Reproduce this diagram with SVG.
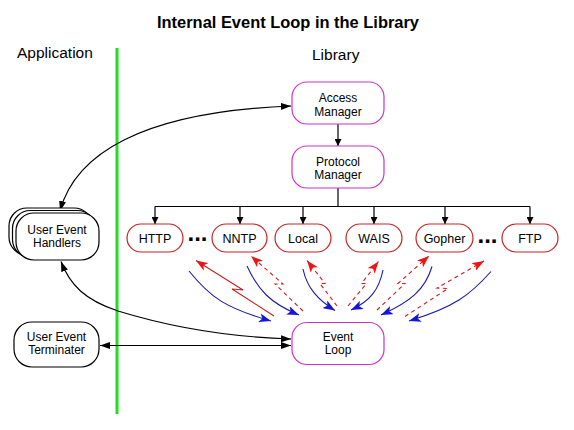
<svg xmlns="http://www.w3.org/2000/svg" width="574" height="430" viewBox="0 0 574 430">
<style>
text{font-family:"Liberation Sans",Arial,sans-serif;fill:#000}
.t{font-size:12.5px;text-anchor:middle}
.t2{font-size:12px;text-anchor:middle}
.mg{fill:#fff;stroke:#cc33cc;stroke-width:1.2}
.rd{fill:#fff;stroke:#c42424;stroke-width:1.2}
.bk{fill:#fff;stroke:#000;stroke-width:1.2}
.cn{fill:none;stroke:#000;stroke-width:1.2}
.bl{fill:none;stroke:#1a1aaa;stroke-width:1.1;marker-end:url(#mb)}
.rl{fill:none;stroke:#c81e1e;stroke-width:1.1;marker-end:url(#mr)}
.dash{stroke-dasharray:4 3.5}
.dots{font-size:24px;font-weight:bold;text-anchor:middle}
</style>
<defs>
<marker id="ml" markerUnits="userSpaceOnUse" markerWidth="10" markerHeight="8" refX="10" refY="4" orient="auto-start-reverse"><path d="M0,0.5 L10,4 L0,7.5 z" fill="#000"/></marker>
<marker id="ms" markerUnits="userSpaceOnUse" markerWidth="7" markerHeight="7" refX="7" refY="3.5" orient="auto"><path d="M0,0 L7,3.5 L0,7 z" fill="#000"/></marker>
<marker id="mb" markerUnits="userSpaceOnUse" markerWidth="12" markerHeight="9" refX="12" refY="4.5" orient="auto"><path d="M0,0 L12,4.5 L0,9 L3,4.5 z" fill="#1414dc"/></marker>
<marker id="mr" markerUnits="userSpaceOnUse" markerWidth="12" markerHeight="9" refX="12" refY="4.5" orient="auto"><path d="M0,0 L12,4.5 L0,9 L3,4.5 z" fill="#ee1414"/></marker>
</defs>

<text x="288" y="27.5" font-size="17" font-weight="bold" text-anchor="middle" textLength="262" lengthAdjust="spacingAndGlyphs">Internal Event Loop in the Library</text>
<text x="17" y="58" font-size="15.5">Application</text>
<text x="312" y="59.5" font-size="15.5">Library</text>

<rect x="115.5" y="48" width="3" height="366" fill="#22dd22"/>

<g id="connectors">
<path class="cn" d="M338,124 V146" marker-end="url(#ms)"/>
<path class="cn" d="M338,188 V206.5 M155,206.5 H530"/>
<path class="cn" d="M155,206.5 V224" marker-end="url(#ms)"/>
<path class="cn" d="M240,206.5 V224" marker-end="url(#ms)"/>
<path class="cn" d="M303,206.5 V224" marker-end="url(#ms)"/>
<path class="cn" d="M374,206.5 V224" marker-end="url(#ms)"/>
<path class="cn" d="M445,206.5 V224" marker-end="url(#ms)"/>
<path class="cn" d="M530,206.5 V224" marker-end="url(#ms)"/>
<path class="cn" d="M60,211 C75,155 140,112 291,106" marker-start="url(#ml)" marker-end="url(#ml)"/>
<path class="cn" d="M61,261.5 C70,285 85,300 118,311 C170,327 230,337 291,339" marker-start="url(#ml)" marker-end="url(#ml)"/>
<path class="cn" d="M100,345.5 H291" marker-start="url(#ml)" marker-end="url(#ml)"/>

<path class="bl" d="M189,271 C210,297 225,308 271,321"/>
<path class="bl" d="M247,266 C258,290 270,303 299,315"/>
<path class="bl" d="M303,269 C307,288 318,300 335,310.5"/>
<path class="bl" d="M383,270 C379,290 370,301 351,310"/>
<path class="bl" d="M432,266.5 C425,290 410,302 381,315"/>
<path class="bl" d="M491,271.5 C470,295 455,307 409,321"/>

<path class="rl" d="M274,316 L232,289 L243,290 L196,260.5"/>
<path class="rl dash" d="M303,311 L275,284 L283,284 L251,256"/>
<path class="rl dash" d="M337,306 L320,283.5 L325,283.5 L307,260.5"/>
<path class="rl dash" d="M348,306 L366.5,283.5 L361.5,283.5 L378.5,261.5"/>
<path class="rl dash" d="M377,310 L405,283.5 L398,283.5 L429,256"/>
<path class="rl dash" d="M405,316.5 L448,288.5 L437,288 L484,261"/>
</g>

<g id="access-manager">
<rect class="mg" x="292" y="82" width="92" height="42" rx="15"/>
<text class="t2" x="338" y="102"><tspan x="338">Access</tspan><tspan x="338" dy="13.5">Manager</tspan></text>
</g>
<g id="protocol-manager">
<rect class="mg" x="292" y="146" width="92" height="42" rx="15"/>
<text class="t2" x="338" y="165.5"><tspan x="338">Protocol</tspan><tspan x="338" dy="13.5">Manager</tspan></text>
</g>
<g id="event-loop">
<rect class="mg" x="292" y="322.5" width="92" height="42" rx="15"/>
<text class="t2" x="338" y="340.5"><tspan x="338">Event</tspan><tspan x="338" dy="13.5">Loop</tspan></text>
</g>

<g id="http"><rect class="rd" x="127" y="224" width="56" height="28" rx="14"/><text class="t" x="155" y="243">HTTP</text></g>
<g id="nntp"><rect class="rd" x="212" y="224" width="55" height="28" rx="14"/><text class="t" x="239.5" y="243">NNTP</text></g>
<g id="local"><rect class="rd" x="275" y="224" width="56" height="28" rx="14"/><text class="t" x="303" y="243">Local</text></g>
<g id="wais"><rect class="rd" x="346" y="224" width="56" height="28" rx="14"/><text class="t" x="374" y="243">WAIS</text></g>
<g id="gopher"><rect class="rd" x="416" y="224" width="57" height="28" rx="14"/><text class="t" x="444.5" y="243">Gopher</text></g>
<g id="ftp"><rect class="rd" x="502" y="224" width="56" height="28" rx="14"/><text class="t" x="530" y="243">FTP</text></g>
<text class="dots" x="197.5" y="240.5">...</text>
<text class="dots" x="487.5" y="242.5">...</text>

<g id="user-event-handlers">
<rect class="bk" x="9" y="208" width="83" height="47" rx="18"/>
<rect class="bk" x="12.5" y="210.5" width="83" height="47" rx="18"/>
<rect class="bk" x="16" y="213" width="83" height="47" rx="18"/>
<text class="t2" x="57" y="233.5"><tspan x="57">User Event</tspan><tspan x="57" dy="13.5">Handlers</tspan></text>
</g>
<g id="user-event-terminater">
<rect class="bk" x="14" y="322" width="85" height="45" rx="18"/>
<text class="t2" x="56.5" y="340.5"><tspan x="56.5">User Event</tspan><tspan x="56.5" dy="13.5">Terminater</tspan></text>
</g>
</svg>
